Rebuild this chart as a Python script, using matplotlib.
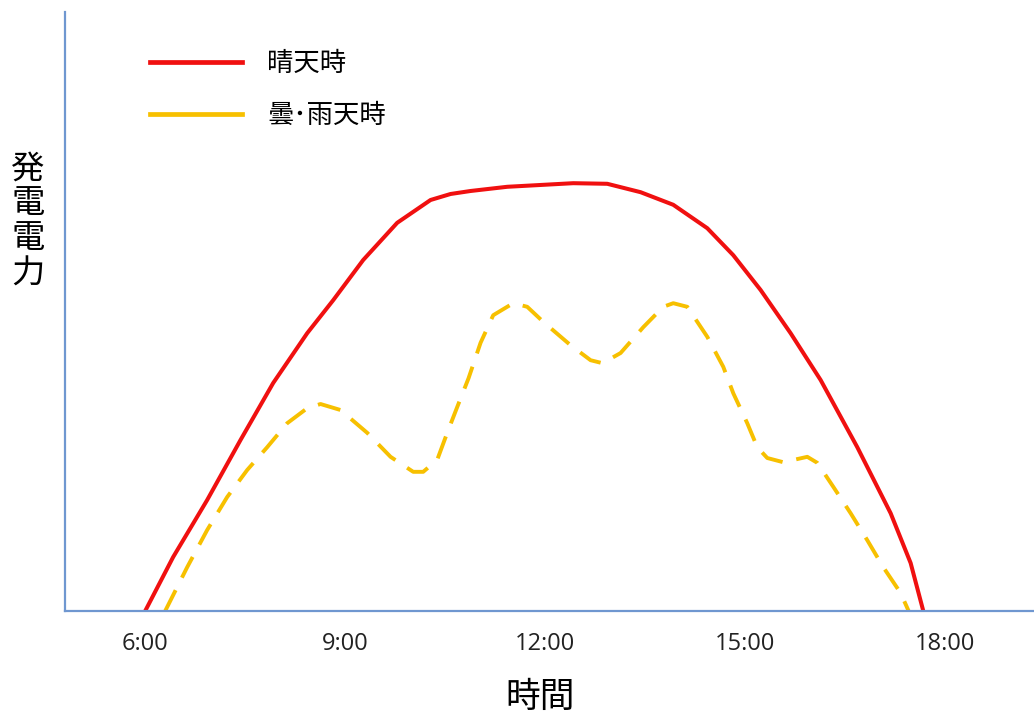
import matplotlib
matplotlib.use("Agg")
import matplotlib.pyplot as plt
from matplotlib.lines import Line2D

plt.rcParams['font.family'] = ['Noto Sans CJK JP', 'DejaVu Sans']

# clear-day generation (hour, relative output)
sunny_hours = [6.0, 6.42, 6.93, 7.43, 7.92, 8.43, 8.82, 9.27, 9.78, 10.28,
               10.58, 10.88, 11.43, 12.42, 12.93, 13.43, 13.92, 14.43, 14.82,
               15.23, 15.68, 16.13, 16.68, 17.18, 17.48, 17.67]
sunny_power = [0, 9.0, 18.5, 28.5, 38.0, 46.3, 51.8, 58.5, 64.7, 68.5,
               69.5, 70.0, 70.7, 71.3, 71.2, 69.8, 67.7, 63.8, 59.3,
               53.5, 46.3, 38.5, 27.3, 16.3, 8.0, 0]

# cloudy / rainy-day generation
cloudy_hours = [6.30, 6.63, 6.93, 7.23, 7.53, 7.83, 8.13, 8.43, 8.63, 8.93,
                9.33, 9.68, 10.02, 10.17, 10.38, 10.53, 10.68, 10.85, 11.03,
                11.22, 11.52, 11.73, 11.97, 12.38, 12.68, 12.86, 13.13, 13.47,
                13.77, 13.92, 14.13, 14.43, 14.67, 14.82, 15.03, 15.18, 15.33,
                15.57, 15.93, 16.08, 16.32, 16.58, 16.83, 17.07, 17.33, 17.45]
cloudy_power = [0, 7.3, 13.5, 19.0, 23.5, 27.3, 31.3, 33.8, 34.5, 33.5,
                29.7, 25.7, 23.2, 23.2, 25.2, 29.7, 34.0, 38.8, 44.7,
                49.3, 51.3, 50.7, 48.2, 44.3, 41.8, 41.3, 43.0, 47.3,
                50.7, 51.3, 50.7, 45.7, 40.7, 36.3, 31.3, 27.3, 25.5,
                24.8, 25.7, 24.7, 20.7, 16.3, 11.8, 7.3, 3.0, 0]

tick_hours = [6, 9, 12, 15, 18]
tick_labels = ['6:00', '9:00', '12:00', '15:00', '18:00']
series_labels = ['晴天時', '曇･雨天時']

red = '#f01010'
gold = '#f7c000'
blue = '#6f97d0'

fig = plt.figure(figsize=(10.34, 7.16), dpi=100)
ax = fig.add_axes([0.063, 0.1466, 0.937, 0.8364])

ax.plot(sunny_hours, sunny_power, color=red, lw=2.9,
        solid_joinstyle='round', solid_capstyle='butt')
ax.plot(cloudy_hours, cloudy_power, color=gold, lw=2.8, dashes=(6, 3.6),
        dash_joinstyle='round')

ax.set_xlim(4.8, 19.33)
ax.set_ylim(0, 99.8)

for side in ['top', 'right']:
    ax.spines[side].set_visible(False)
for side in ['left', 'bottom']:
    ax.spines[side].set_color(blue)
    ax.spines[side].set_linewidth(1.6)

ax.set_xticks(tick_hours)
ax.set_xticklabels(tick_labels, fontsize=17, color='#222222',
                   family=['Open Sans', 'DejaVu Sans'])
ax.tick_params(axis='x', length=0, pad=15)
ax.set_yticks([])

ax.set_xlabel('時間', fontsize=25)
ax.xaxis.set_label_coords(0.49, -0.115)

# vertical stacked y label
fig.text(0.027, 0.691, '\n'.join('発電電力'), fontsize=24, ha='center',
         va='center', linespacing=1.0)

handles = [Line2D([], [], color=red, lw=3.4),
           Line2D([], [], color=gold, lw=3.4)]
ax.legend(handles, series_labels, loc='upper left',
          bbox_to_anchor=(0.122, 0.963), bbox_transform=fig.transFigure,
          frameon=False, fontsize=19, handlelength=3.5, handletextpad=0.95,
          labelspacing=0.95)

fig.savefig('out.png', dpi=100)
